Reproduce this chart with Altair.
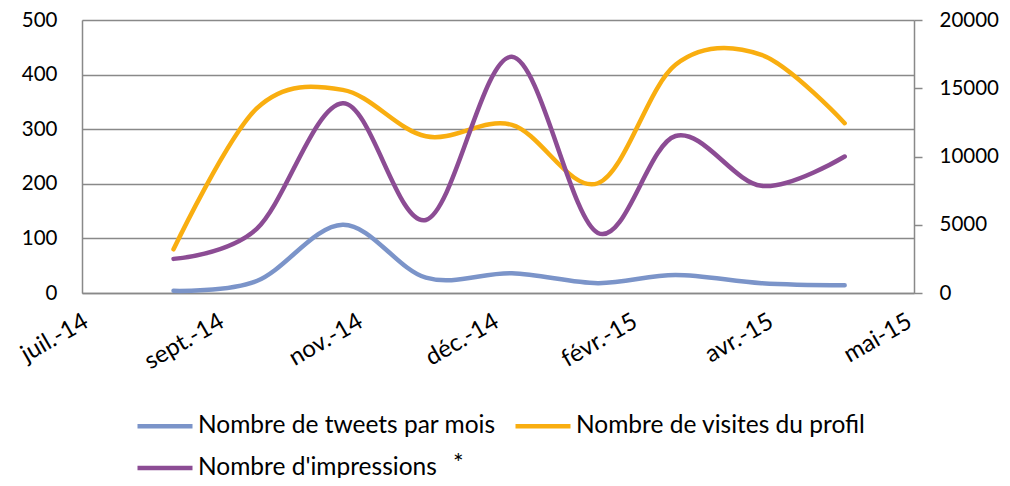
import altair as alt
import pandas as pd

# ---- data ----
months = ["2014-09-01", "2014-10-01", "2014-11-01", "2014-12-01", "2015-01-01",
          "2015-02-01", "2015-03-01", "2015-04-01", "2015-05-01"]
tweets = [4, 22, 125, 28, 36, 18, 33, 18, 14]
visits = [80, 338, 372, 287, 308, 201, 418, 436, 311]
impressions = [2500, 4700, 13900, 5350, 17300, 4400, 11500, 7850, 10000]

series_names = ["Nombre de tweets par mois", "Nombre de visites du profil", "Nombre d'impressions"]
series_colors = ["#7B94C9", "#F9AE10", "#8C4C94"]

left_ticks = [0, 100, 200, 300, 400, 500]
right_ticks = [0, 5000, 10000, 15000, 20000]
fr_months = ["janv.", "févr.", "mars", "avr.", "mai", "juin",
             "juil.", "août", "sept.", "oct.", "nov.", "déc."]

FONT = "Lato"
GRID = "#898989"

left_df = pd.DataFrame({
    "date": months * 2,
    "value": tweets + visits,
    "series": [series_names[0]] * len(months) + [series_names[1]] * len(months),
})
right_df = pd.DataFrame({
    "date": months,
    "value": impressions,
    "series": [series_names[2]] * len(months),
})

def dt(y, m, d):
    return alt.DateTime(year=y, month=m, date=d, utc=True)

x_domain = [dt(2014, 7, 30), dt(2015, 5, 26)]
x_ticks = [dt(2014, 7, 30), dt(2014, 9, 17), dt(2014, 11, 6), dt(2014, 12, 25),
           dt(2015, 2, 13), dt(2015, 4, 3), dt(2015, 5, 23)]

month_arr = "[" + ",".join("'" + m + "'" for m in fr_months) + "]"
label_expr = month_arr + "[utcmonth(datum.value)] + '-' + utcFormat(datum.value, '%y')"

x_enc = alt.X(
    "date:T",
    scale=alt.Scale(type="utc", domain=x_domain),
    axis=alt.Axis(
        values=x_ticks, labelExpr=label_expr, title=None, ticks=False,
        grid=False, domainColor=GRID, domainWidth=1.5,
        labelAngle=330, labelAlign="right", labelBaseline="top",
        labelPadding=16, labelOffset=-2, labelFont=FONT, labelFontSize=24,
        labelColor="#000000", labelOverlap=False, labelFlush=False,
    ),
)

color_enc = alt.Color(
    "series:N",
    scale=alt.Scale(domain=series_names, range=series_colors),
    legend=alt.Legend(
        title=None, orient="none", legendX=53, legendY=376, columns=2,
        direction="horizontal",
        symbolType="stroke", symbolSize=3025, symbolStrokeWidth=4.5,
        labelFont=FONT, labelFontSize=24.5, labelColor="#000000", labelOffset=3,
        columnPadding=10, rowPadding=-2, padding=0, labelLimit=400,
    ),
)

left = alt.Chart(left_df).mark_line(
    interpolate="cardinal", strokeWidth=4.5, strokeCap="round"
).encode(
    x=x_enc,
    y=alt.Y(
        "value:Q",
        scale=alt.Scale(domain=[0, 500], nice=False),
        axis=alt.Axis(
            values=left_ticks, title=None, grid=True, gridColor=GRID, gridWidth=1.5,
            ticks=False, domainColor=GRID, domainWidth=1.5, labelPadding=25,
            labelFont=FONT, labelFontSize=20.5, labelColor="#000000", format="d",
        ),
    ),
    color=color_enc,
    detail="series:N",
)

right = alt.Chart(right_df).mark_line(
    interpolate="cardinal", strokeWidth=4.5, strokeCap="round"
).encode(
    x=x_enc,
    y=alt.Y(
        "value:Q",
        scale=alt.Scale(domain=[0, 20000], nice=False),
        axis=alt.Axis(
            orient="right", values=right_ticks, title=None, grid=False,
            ticks=True, tickSize=8, tickColor=GRID, tickWidth=1.5,
            domainColor=GRID, domainWidth=1.5, labelPadding=17, format="d",
            labelFont=FONT, labelFontSize=20.5, labelColor="#000000",
        ),
    ),
    color=color_enc,
)

asterisk = alt.Chart(pd.DataFrame({"t": ["*"]})).mark_text(
    font=FONT, fontSize=25, color="#000000", align="left", baseline="middle"
).encode(
    text="t:N", x=alt.value(371), y=alt.value(444)
)

chart = alt.layer(left, right, asterisk).resolve_scale(y="independent").properties(
    width=832, height=273,
    padding={"left": 74, "top": 12, "right": 88, "bottom": 185},
    autosize=alt.AutoSizeParams(type="none"),
).configure_view(stroke=None).configure(background="#FFFFFF")

chart.save("out.html", embed_options={"renderer": "svg", "actions": False})
